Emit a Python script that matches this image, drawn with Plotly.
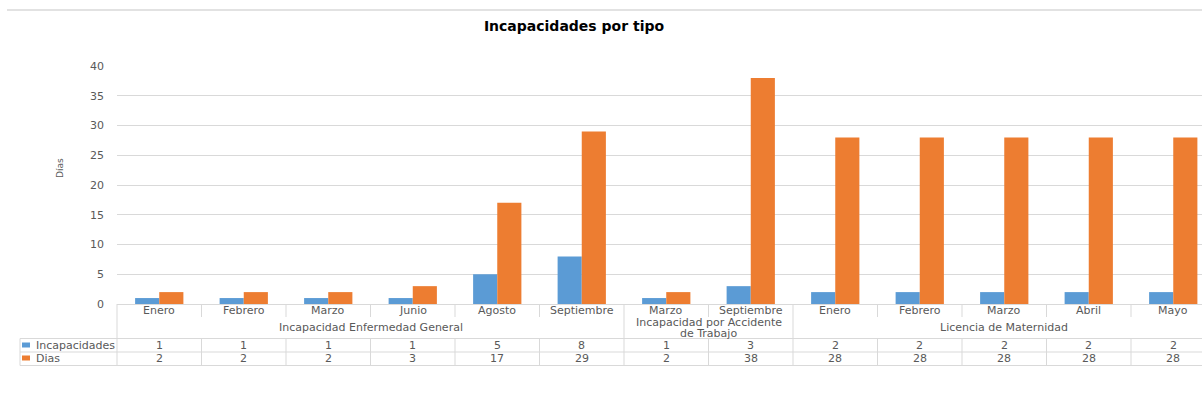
import plotly.graph_objects as go

# --- data -------------------------------------------------------------
group_names = ["Incapacidad Enfermedad General"] * 6 + \
              ["Incapacidad por Accidente de Trabajo"] * 2 + \
              ["Licencia de Maternidad"] * 5
# how each group name is wrapped inside its cell
group_lines = {
    "Incapacidad Enfermedad General": ["Incapacidad Enfermedad General"],
    "Incapacidad por Accidente de Trabajo": ["Incapacidad por Accidente", "de Trabajo"],
    "Licencia de Maternidad": ["Licencia de Maternidad"],
}
months = ["Enero", "Febrero", "Marzo", "Junio", "Agosto", "Septiembre",
          "Marzo", "Septiembre",
          "Enero", "Febrero", "Marzo", "Abril", "Mayo"]
incapacidades = [1, 1, 1, 1, 5, 8, 1, 3, 2, 2, 2, 2, 2]
dias = [2, 2, 2, 3, 17, 29, 2, 38, 28, 28, 28, 28, 28]
y_ticks = [0, 5, 10, 15, 20, 25, 30, 35, 40]

series = [("Incapacidades", incapacidades, "#5B9BD5"),
          ("Dias", dias, "#ED7D31")]

# --- geometry ---------------------------------------------------------
W, H = 1202, 405
ML, MR, MT, MB = 117, 0, 66, 101
PW, PH = W - ML - MR, H - MT - MB
CAT_PX = 84.5                      # width of one category in pixels
x_min = -0.5
x_max = x_min + PW / CAT_PX        # last category runs past the right edge

FONT = "DejaVu Sans"
GREY_TXT = "#595959"
LINE = "#d9d9d9"


def px_x(p):
    return (p - ML) / PW


def px_y(p):
    return (H - MB - p) / PH


x = list(range(len(months)))

fig = go.Figure()
for name, vals, color in series:
    fig.add_trace(go.Bar(x=x, y=vals, name=name, marker_color=color,
                         marker_line_width=0, showlegend=False))

shapes = []
annotations = []


def cell_text(xv, yv, text, xref="x", xanchor="center"):
    annotations.append(dict(x=xv, y=yv, xref=xref, yref="paper", text=text,
                            showarrow=False, xanchor=xanchor, yanchor="middle",
                            font=dict(family=FONT, size=11, color=GREY_TXT)))


# month labels row
for i, m in enumerate(months):
    cell_text(i, px_y(310), m)

# group labels row + group boundaries
spans = []
start = 0
for i in range(1, len(group_names) + 1):
    if i == len(group_names) or group_names[i] != group_names[start]:
        spans.append((group_names[start], start, i - 1))
        start = i
for g, a, b in spans:
    lines = group_lines[g]
    step = 11
    top = 327.5 - step * (len(lines) - 1) / 2
    for k, ln in enumerate(lines):
        cell_text((a + b) / 2, px_y(top + k * step), ln)
group_starts = {a for _, a, _ in spans if a > 0}

# value rows
row_y = [px_y(345), px_y(358)]
for (name, vals, color), ry in zip(series, row_y):
    for i, v in enumerate(vals):
        cell_text(i, ry, str(v))
    # legend key + series name
    shapes.append(dict(type="rect", xref="paper", yref="paper",
                       x0=px_x(22), x1=px_x(30),
                       y0=ry - 2.5 / PH, y1=ry + 2.5 / PH,
                       fillcolor=color, line_width=0))
    cell_text(px_x(34), ry, name, xref="paper", xanchor="left")

# table grid lines
line_style = dict(color=LINE, width=1)
for yy in (338.5, 352, 365.5):
    shapes.append(dict(type="line", xref="paper", yref="paper",
                       x0=px_x(20), x1=1, y0=px_y(yy), y1=px_y(yy),
                       line=line_style))
shapes.append(dict(type="line", xref="paper", yref="paper",
                   x0=px_x(20), x1=px_x(20), y0=px_y(338.5), y1=px_y(365.5),
                   line=line_style))
shapes.append(dict(type="line", xref="paper", yref="paper",
                   x0=0, x1=0, y0=0, y1=px_y(365.5), line=line_style))
for i in range(1, len(months)):
    xb = i - 0.5
    if i in group_starts:
        shapes.append(dict(type="line", xref="x", yref="paper", x0=xb, x1=xb,
                           y0=0, y1=px_y(365.5), line=line_style))
    else:
        shapes.append(dict(type="line", xref="x", yref="paper", x0=xb, x1=xb,
                           y0=0, y1=px_y(317), line=line_style))
        shapes.append(dict(type="line", xref="x", yref="paper", x0=xb, x1=xb,
                           y0=px_y(338.5), y1=px_y(365.5), line=line_style))

# rule across the top of the chart
shapes.append(dict(type="line", xref="paper", yref="paper",
                   x0=px_x(7), x1=1, y0=px_y(10), y1=px_y(10),
                   line=dict(color=LINE, width=1.5)))

# vertical axis title
annotations.append(dict(x=px_x(60), y=px_y(168), xref="paper", yref="paper",
                        text="Días", textangle=-90, showarrow=False,
                        xanchor="center", yanchor="middle",
                        font=dict(family=FONT, size=9, color=GREY_TXT)))

fig.update_layout(
    width=W, height=H,
    margin=dict(l=ML, r=MR, t=MT, b=MB, pad=0),
    paper_bgcolor="white", plot_bgcolor="white",
    barmode="group", bargap=1.5 / 3.5, bargroupgap=0,
    title=dict(text="<b>Incapacidades por tipo</b>", x=574 / W, xanchor="center",
               y=1 - 26 / H, yanchor="middle", yref="container",
               font=dict(family=FONT, size=14, color="#000000")),
    xaxis=dict(range=[x_min, x_max], showticklabels=False, showgrid=False,
               zeroline=False, showline=False, ticks=""),
    yaxis=dict(range=[0, 40], tickvals=y_ticks, showgrid=True, gridcolor=LINE,
               gridwidth=1, zeroline=True, zerolinecolor=LINE, zerolinewidth=1,
               showline=False, ticks="", ticklabelstandoff=12,
               tickfont=dict(family=FONT, size=11, color=GREY_TXT)),
    shapes=shapes,
    annotations=annotations,
)

fig.write_html("out.html", config={"displayModeBar": False})
